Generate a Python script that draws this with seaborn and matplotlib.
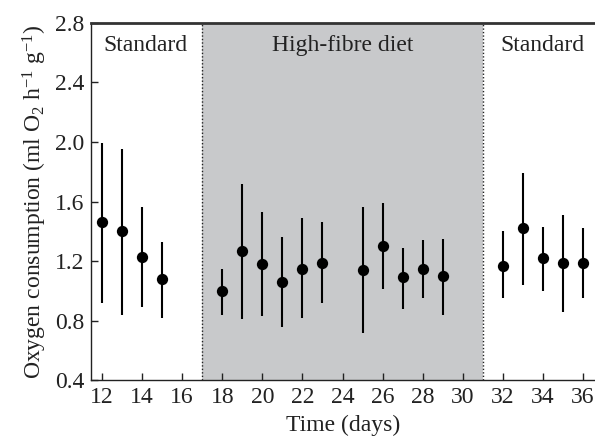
import matplotlib
matplotlib.use("Agg")
import matplotlib.pyplot as plt
import seaborn as sns
import pandas as pd

days = [12, 13, 14, 15, 18, 19, 20, 21, 22, 23, 25, 26, 27, 28, 29, 32, 33, 34, 35, 36]
mean = [1.46, 1.40, 1.23, 1.08, 1.00, 1.27, 1.18, 1.06, 1.15, 1.19, 1.14, 1.30, 1.09, 1.15, 1.10, 1.17, 1.42, 1.22, 1.19, 1.19]
upper = [1.99, 1.95, 1.56, 1.33, 1.15, 1.72, 1.53, 1.36, 1.49, 1.46, 1.56, 1.59, 1.29, 1.34, 1.35, 1.40, 1.79, 1.43, 1.51, 1.42]
lower = [0.92, 0.84, 0.89, 0.82, 0.84, 0.81, 0.83, 0.76, 0.82, 0.92, 0.72, 1.01, 0.88, 0.95, 0.84, 0.95, 1.04, 1.00, 0.86, 0.95]
phase_labels = ["Standard", "High-fibre diet", "Standard"]
phase_x = [14.15, 24.0, 34.0]
diet_start, diet_end = 17, 31
xticks = list(range(12, 37, 2))
yticks = [0.4, 0.8, 1.2, 1.6, 2.0, 2.4, 2.8]

df = pd.DataFrame({"day": days, "mean": mean, "upper": upper, "lower": lower})

sns.set_style("ticks")
plt.rcParams["font.family"] = ["Liberation Serif", "DejaVu Serif"]
plt.rcParams["mathtext.fontset"] = "custom"
plt.rcParams["mathtext.rm"] = "Liberation Serif"
plt.rcParams["mathtext.it"] = "Liberation Serif:italic"

FS = 17
fig = plt.figure(figsize=(5.95, 4.41), dpi=100)
ax = fig.add_axes([0.153, 0.138, 0.847, 0.810])

ax.axvspan(diet_start, diet_end, color="#c8c9cb", zorder=0, lw=0)
for xv in (diet_start, diet_end):
    ax.axvline(xv, color="#222222", ls=(0, (1, 1.5)), lw=1.0, zorder=1)

ax.vlines(df["day"], df["lower"], df["upper"], color="black", lw=1.5, zorder=2)
sns.scatterplot(data=df, x="day", y="mean", ax=ax, color="black", s=66,
                edgecolor="black", linewidth=0, zorder=3, legend=False)

for lab, xp in zip(phase_labels, phase_x):
    ax.text(xp, 2.65, lab, ha="center", va="center", fontsize=FS, color="#222222")

ax.set_xlim(11.45, 36.6)
ax.set_ylim(0.4, 2.8)
ax.set_xticks(xticks)
ax.set_yticks(yticks)
ax.set_yticklabels([f"{v:.1f}" for v in yticks])
ax.tick_params(direction="in", length=5, width=1, labelsize=FS, colors="#222222", pad=5)
ax.set_xlabel("Time (days)", fontsize=FS, color="#222222", labelpad=5)
ax.set_ylabel(r"Oxygen consumption (ml O$_2$ h$^{-1}$ g$^{-1}$)", fontsize=FS, color="#222222", labelpad=4)

ax.spines["right"].set_visible(False)
ax.spines["top"].set_linewidth(2)
ax.spines["top"].set_color("#333333")
for s in ("left", "bottom"):
    ax.spines[s].set_linewidth(1)
    ax.spines[s].set_color("#222222")

fig.savefig("out.png", dpi=100)
